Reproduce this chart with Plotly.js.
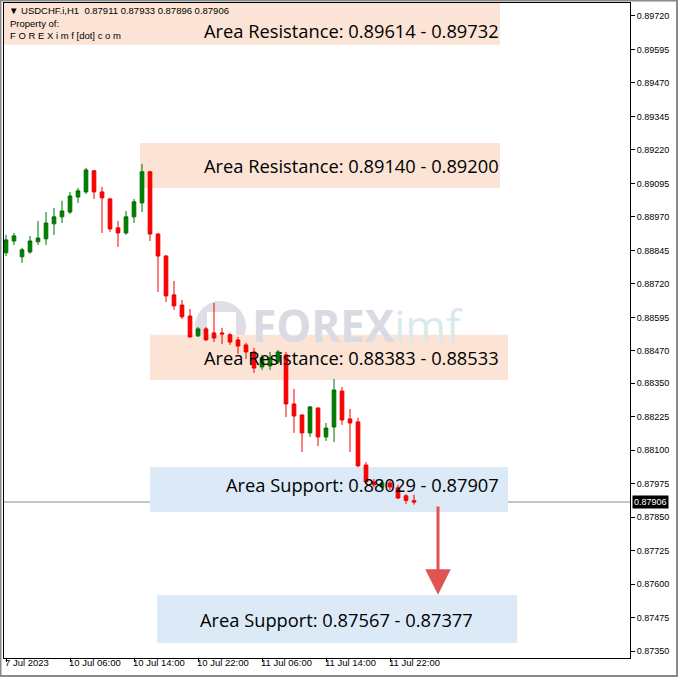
<!DOCTYPE html>
<html>
<head>
<meta charset="utf-8">
<script src="https://cdn.plot.ly/plotly-3.0.1.min.js"></script>
<style>html,body{margin:0;padding:0;background:#fff;}#chart{width:678px;height:678px;}</style>
</head>
<body>
<div id="chart"></div>
<script>
// ---- data ----
const times = ['7 Jul 22:00', '7 Jul 23:00'];
for (const d of [10, 11]) for (let h = 0; h < 24; h++) times.push(d + ' Jul ' + String(h).padStart(2, '0') + ':00');
times.push('12 Jul 00:00', '12 Jul 01:00');

const openP = [0.88836,0.88880,0.88821,0.88839,0.88877,0.88888,0.88944,0.88970,0.88988,0.89044,
  0.89063,0.89142,0.89063,0.89037,0.88929,0.88910,0.88970,0.89022,0.89138,0.88906,
  0.88824,0.88679,0.88641,0.88600,0.88526,0.88552,0.88537,0.88537,0.88530,0.88511,
  0.88492,0.88466,0.88410,0.88414,0.88429,0.88455,0.88272,0.88231,0.88164,0.88257,
  0.88149,0.88186,0.88320,0.88216,0.88205,0.88044,0.87981,0.87962,0.87977,0.87959,
  0.87929,0.87911];
const highP = [0.88903,0.88910,0.88854,0.88899,0.88955,0.88988,0.89003,0.89030,0.89063,0.89078,
  0.89153,0.89145,0.89082,0.89041,0.88955,0.88992,0.89037,0.89168,0.89142,0.88910,
  0.88828,0.88731,0.88660,0.88626,0.88559,0.88559,0.88649,0.88556,0.88537,0.88522,
  0.88500,0.88481,0.88455,0.88466,0.88473,0.88466,0.88328,0.88231,0.88264,0.88257,
  0.88201,0.88365,0.88335,0.88253,0.88220,0.88055,0.87992,0.87985,0.87985,0.87970,
  0.87936,0.87933];
const lowP = [0.88824,0.88865,0.88798,0.88832,0.88865,0.88865,0.88903,0.88947,0.88981,0.89022,
  0.89056,0.89037,0.88910,0.88914,0.88858,0.88903,0.88947,0.88988,0.88880,0.88690,
  0.88653,0.88623,0.88589,0.88519,0.88522,0.88507,0.88503,0.88496,0.88492,0.88459,
  0.88440,0.88388,0.88399,0.88399,0.88421,0.88223,0.88164,0.88093,0.88149,0.88115,
  0.88134,0.88130,0.88194,0.88093,0.88037,0.87977,0.87962,0.87955,0.87951,0.87917,
  0.87899,0.87896];
const closeP = [0.88884,0.88899,0.88847,0.88880,0.88891,0.88947,0.88970,0.88992,0.89048,0.89067,
  0.89145,0.89063,0.89041,0.88925,0.88910,0.88970,0.89026,0.89138,0.88906,0.88824,
  0.88675,0.88638,0.88597,0.88522,0.88552,0.88511,0.88518,0.88533,0.88503,0.88488,
  0.88466,0.88406,0.88444,0.88444,0.88466,0.88272,0.88227,0.88164,0.88261,0.88149,
  0.88182,0.88324,0.88212,0.88201,0.88041,0.87981,0.87970,0.87977,0.87962,0.87921,
  0.87912,0.87906];

const lastPrice = 0.87906;
const headerText = 'USDCHF.i,H1  0.87911 0.87933 0.87896 0.87906';

const yTickVals = [0.89720,0.89595,0.89470,0.89345,0.89220,0.89095,0.88970,0.88845,0.88720,0.88595,
  0.88470,0.88350,0.88225,0.88100,0.87975,0.87850,0.87725,0.87600,0.87475,0.87350];
const yTickText = ['0.89720','0.89595','0.89470','0.89345','0.89220','0.89095','0.88970','0.88845','0.88720','0.88595',
  '0.88470','0.88350','0.88225','0.88100','0.87975','0.87850','0.87725','0.87600','0.87475','0.87350'];

const xTickCats = ['7 Jul 22:00','10 Jul 06:00','10 Jul 14:00','10 Jul 22:00','11 Jul 06:00','11 Jul 14:00','11 Jul 22:00'];
const xTickText = ['7 Jul 2023','10 Jul 06:00','10 Jul 14:00','10 Jul 22:00','11 Jul 06:00','11 Jul 14:00','11 Jul 22:00'];

const zoneLabels = ['Area Resistance: 0.89614 - 0.89732','Area Resistance: 0.89140 - 0.89200',
  'Area Resistance: 0.88383 - 0.88533','Area Support: 0.88029 - 0.87907','Area Support: 0.87567 - 0.87377'];
const zoneKind = ['res','res','res','sup','sup'];
const zoneTop = [0.89780,0.89246,0.88530,0.88037,0.87559];
const zoneBottom = [0.89612,0.89078,0.88361,0.87869,0.87380];
const arrowFrom = 0.87895, arrowTo = 0.87560;

// ---- layout geometry (positions & styles) ----
const W = 678, H = 678, ML = 4, MR = 48, MT = 3, MB = 20;
const PW = W - ML - MR, PH = H - MT - MB;
const px = x => (x - ML) / PW;
const py = y => 1 - (y - MT) / PH;
const zoneX0 = [-0.6, 16.75, 18, 18, 18.9];
const zoneX1 = [61.75, 61.75, 62.75, 62.75, 63.9];
const zoneTextX = [61.9, 61.9, 61.9, 61.9, 41.3];
const zoneTextAnchor = ['right','right','right','right','center'];
const zoneTextY = [0.89664, null, null, 0.87970, null];
const arrowCat = 54;
const FONT = 'Liberation Sans, Arial, sans-serif';

const shapes = [];
const annotations = [];
zoneLabels.forEach((lab, i) => {
  shapes.push({type:'rect', xref:'x', yref:'y', x0:zoneX0[i], x1:zoneX1[i], y0:zoneBottom[i], y1:zoneTop[i],
    fillcolor: zoneKind[i] === 'res' ? '#FBE4D6' : '#DCEAF7', line:{width:0}, layer:'below'});
  annotations.push({xref:'x', yref:'y', x:zoneTextX[i], xanchor:zoneTextAnchor[i],
    y: zoneTextY[i] !== null ? zoneTextY[i] : (zoneTop[i] + zoneBottom[i]) / 2, yanchor:'middle',
    text: lab, showarrow:false, font:{family:'Open Sans, sans-serif', size:18.3, color:'#000'}});
});
// current price line
shapes.push({type:'line', xref:'paper', yref:'y', x0:0, x1:1, y0:lastPrice, y1:lastPrice,
  line:{color:'#7f8f9c', width:1}, layer:'below'});
// watermark
shapes.push({type:'circle', xref:'paper', yref:'paper', x0:px(195), x1:px(246), y0:py(352), y1:py(301),
  fillcolor:'#dedee4', line:{width:0}, layer:'below'});
shapes.push({type:'rect', xref:'paper', yref:'paper', x0:px(207), x1:px(236), y0:py(335), y1:py(312),
  fillcolor:'#ffffff', line:{width:0}, layer:'below'});
// outer window border
shapes.push({type:'rect', xref:'paper', yref:'paper', x0:px(0.5), x1:px(677), y0:py(676), y1:py(0.5),
  line:{color:'#8a8a8a', width:2}, fillcolor:'rgba(0,0,0,0)'});

annotations.push({xref:'paper', yref:'paper', x:px(250), y:py(325), xanchor:'left', yanchor:'middle', showarrow:false,
  text:'<b>FOREX</b><span style="color:#daeaec">imf</span>',
  font:{family:'Open Sans, sans-serif', size:44, color:'#dadae2'}});

// arrow
annotations.push({xref:'x', yref:'y', axref:'x', ayref:'y', x:arrowCat, y:arrowTo, ax:arrowCat, ay:arrowFrom,
  showarrow:true, arrowhead:2, arrowsize:1.7, arrowwidth:3, arrowcolor:'#e05353', text:'', standoff:0});

// header
annotations.push({xref:'paper', yref:'paper', x:px(7), y:py(10), xanchor:'left', yanchor:'middle', showarrow:false,
  text:'▼ ' + headerText, font:{family:FONT, size:9.5, color:'#000'}});
annotations.push({xref:'paper', yref:'paper', x:px(8), y:py(23), xanchor:'left', yanchor:'middle', showarrow:false,
  text:'Property of:', font:{family:FONT, size:9.5, color:'#000'}});
annotations.push({xref:'paper', yref:'paper', x:px(8), y:py(36), xanchor:'left', yanchor:'middle', showarrow:false,
  text:'F O R E X i m f [dot] c o m', font:{family:FONT, size:9.5, color:'#000'}});

// x tick labels (left aligned like MT4)
xTickCats.forEach((c, i) => {
  annotations.push({xref:'x', yref:'paper', x:times.indexOf(c), y:py(663), xanchor:'left', yanchor:'middle',
    xshift:-3, showarrow:false, text:xTickText[i], font:{family:FONT, size:9.5, color:'#000'}});
});
// current price tag
annotations.push({xref:'paper', yref:'y', x:1, xshift:2, y:lastPrice, xanchor:'left', yanchor:'middle',
  showarrow:false, text:lastPrice.toFixed(5), bgcolor:'#000', borderpad:1,
  font:{family:FONT, size:9, color:'#fff'}});

const trace = {
  type:'candlestick', x:times, open:openP, high:highP, low:lowP, close:closeP,
  increasing:{line:{color:'#007000', width:1}, fillcolor:'#008000'},
  decreasing:{line:{color:'#ee0000', width:1}, fillcolor:'#ff0000'},
  whiskerwidth:0, hoverinfo:'skip'
};

const layout = {
  width:W, height:H, margin:{l:ML, r:MR, t:MT, b:MB, pad:0},
  paper_bgcolor:'#fff', plot_bgcolor:'#fff', showlegend:false, boxgap:0.35,
  font:{family:FONT, size:9, color:'#000'},
  xaxis:{type:'category', range:[-0.25, 78], rangeslider:{visible:false}, showgrid:false, zeroline:false,
    showline:true, mirror:true, linecolor:'#000', linewidth:1,
    tickmode:'array', tickvals:xTickCats, ticktext:xTickCats.map(() => ''), ticks:'outside', ticklen:3,
    tickcolor:'#000', showticklabels:false, fixedrange:true},
  yaxis:{side:'right', range:[0.87324, 0.89768], showgrid:false, zeroline:false,
    showline:true, mirror:true, linecolor:'#000', linewidth:1,
    tickmode:'array', tickvals:yTickVals, ticktext:yTickText, ticks:'outside', ticklen:4, tickcolor:'#000',
    tickfont:{family:FONT, size:9, color:'#000'}, fixedrange:true},
  shapes: shapes, annotations: annotations
};

Plotly.newPlot('chart', [trace], layout, {staticPlot:true, displayModeBar:false});
</script>
</body>
</html>
